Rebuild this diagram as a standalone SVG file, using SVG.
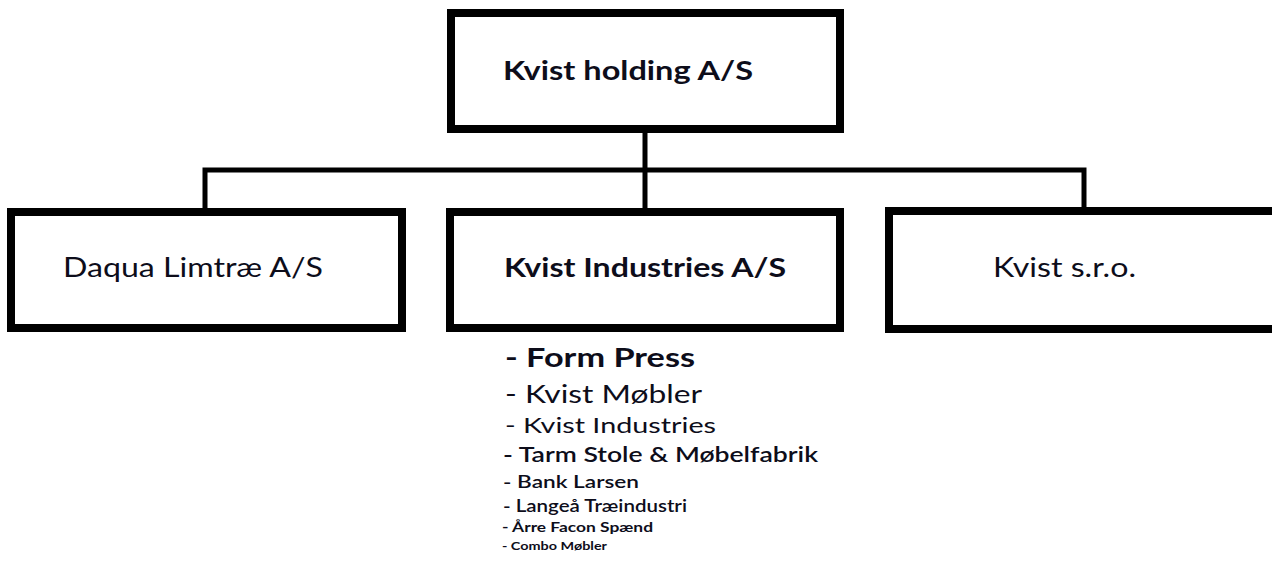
<svg xmlns="http://www.w3.org/2000/svg" width="1272" height="562" viewBox="0 0 1272 562">
<style>
  .box { fill: #ffffff; stroke: #000000; stroke-width: 8; }
  .conn { fill: none; stroke: #000000; stroke-width: 5; }
  text { font-family: Lato, "Open Sans", "Liberation Sans", sans-serif; fill: #0d0d1a; }
  .lbl { font-size: 26px; }
  .b { font-weight: bold; }
</style>
<rect width="1272" height="562" fill="#ffffff"/>
<g id="connectors">
  <line class="conn" x1="645" y1="133" x2="645" y2="208"/>
  <polyline class="conn" points="205,208 205,170 1084,170 1084,208"/>
</g>
<g id="node-holding">
  <rect class="box" x="451" y="13" width="389" height="116"/>
  <text class="lbl b" x="503" y="80" textLength="250" lengthAdjust="spacingAndGlyphs">Kvist holding A/S</text>
</g>
<g id="node-daqua">
  <rect class="box" x="11" y="212" width="391" height="116"/>
  <text class="lbl" x="63" y="277" textLength="260" lengthAdjust="spacingAndGlyphs">Daqua Limtræ A/S</text>
</g>
<g id="node-industries">
  <rect class="box" x="450" y="212" width="390" height="116"/>
  <text class="lbl b" x="504" y="277" textLength="282" lengthAdjust="spacingAndGlyphs">Kvist Industries A/S</text>
</g>
<g id="node-sro">
  <rect class="box" x="889" y="211" width="400" height="118"/>
  <text class="lbl" x="993" y="277" textLength="143" lengthAdjust="spacingAndGlyphs">Kvist s.r.o.</text>
</g>
<g id="industries-list">
  <text x="505" y="367" font-size="27" font-weight="bold" textLength="190" lengthAdjust="spacingAndGlyphs">- Form Press</text>
  <text x="505" y="403" font-size="25" textLength="197" lengthAdjust="spacingAndGlyphs">- Kvist Møbler</text>
  <text x="505" y="433" font-size="21" textLength="211" lengthAdjust="spacingAndGlyphs">- Kvist Industries</text>
  <text x="503" y="462" font-size="21" font-weight="600" textLength="315" lengthAdjust="spacingAndGlyphs">- Tarm Stole &amp; Møbelfabrik</text>
  <text x="503" y="488" font-size="18" font-weight="600" textLength="136" lengthAdjust="spacingAndGlyphs">- Bank Larsen</text>
  <text x="503" y="512" font-size="17" font-weight="600" textLength="184" lengthAdjust="spacingAndGlyphs">- Langeå Træindustri</text>
  <text x="502" y="532" font-size="14" font-weight="bold" textLength="151" lengthAdjust="spacingAndGlyphs">- Årre Facon Spænd</text>
  <text x="502" y="550" font-size="12" font-weight="bold" textLength="105" lengthAdjust="spacingAndGlyphs">- Combo Møbler</text>
</g>
</svg>
